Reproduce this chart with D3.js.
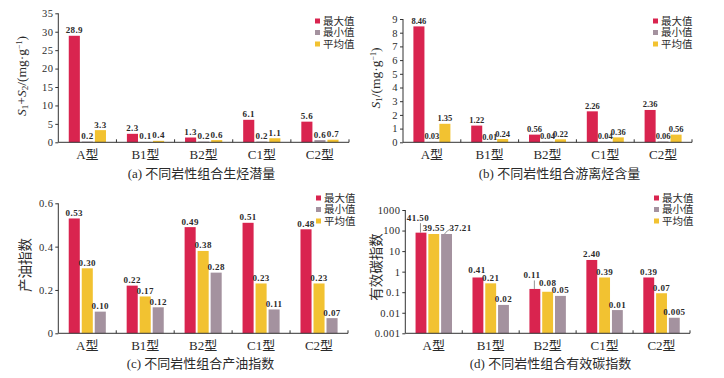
<!DOCTYPE html>
<html>
<head>
<meta charset="utf-8">
<script src="https://cdn.jsdelivr.net/npm/d3@7"></script>
<style>
  body { margin: 0; background: #fff; }
  svg { display: block; }
  text { fill: #2b2b2b; }
</style>
</head>
<body>
<svg width="724" height="378"></svg>
<script>
const categories = ['A型', 'B1型', 'B2型', 'C1型', 'C2型'];
const seriesNames = ['最大值', '最小值', '平均值'];

// (a) S1+S2
const potMax = [28.9, 2.3, 1.3, 6.1, 5.6];
const potMin = [0.2, 0.1, 0.2, 0.2, 0.6];
const potAvg = [3.3, 0.4, 0.6, 1.1, 0.7];

// (b) S1
const freeMax = [8.46, 1.22, 0.56, 2.26, 2.36];
const freeMin = [0.03, 0.01, 0.04, 0.04, 0.06];
const freeAvg = [1.35, 0.24, 0.22, 0.36, 0.56];

// (c) oil index
const oilMax = [0.53, 0.22, 0.49, 0.51, 0.48];
const oilAvg = [0.30, 0.17, 0.38, 0.23, 0.23];
const oilMin = [0.10, 0.12, 0.28, 0.11, 0.07];

// (d) effective carbon index - bar heights as drawn, labels as printed
const carbMax = [79, 0.52, 0.144, 3.7, 0.52];
const carbAvg = [68, 0.27, 0.105, 0.52, 0.089];
const carbMin = [68, 0.024, 0.066, 0.0135, 0.0057];
const carbMaxLabel = ['41.50', '0.41', '0.11', '2.40', '0.39'];
const carbAvgLabel = ['39.55', '0.21', '0.08', '0.39', '0.07'];
const carbMinLabel = ['37.21', '0.02', '0.05', '0.01', '0.005'];

const COLORS = { '最大值': '#d9244f', '最小值': '#a4929f', '平均值': '#f2c231' };
const NUM_FONT = '"Liberation Serif", "Times New Roman", serif';
const CJK_FONT = '"Liberation Serif", "Noto Sans CJK SC", serif';

const svg = d3.select('svg');

const drawPanel = (cfg) => {
    const g = svg.append('g');
    const { x0: left, x1: right, top, bottom } = cfg;

    const x = d3.scaleBand().domain(categories).range([left, right]);
    const bw = x.bandwidth();
    const inner = d3.scaleBand().domain(cfg.series.map(s => s.name))
        .range([bw * 0.18, bw * 0.82]).paddingInner(0.15);

    const y = cfg.log
        ? d3.scaleLog().domain(cfg.domain).range([bottom, top])
        : d3.scaleLinear().domain(cfg.domain).range([bottom, top]);

    // bars
    cfg.series.forEach(s => {
        g.append('g').selectAll('rect')
            .data(s.values)
            .join('rect')
            .attr('x', (_d, i) => x(categories[i]) + inner(s.name))
            .attr('width', inner.bandwidth())
            .attr('y', d => y(d))
            .attr('height', d => y(cfg.domain[0]) - y(d))
            .style('fill', COLORS[s.name]);
    });

    // value labels
    cfg.series.forEach(s => {
        g.append('g').selectAll('text')
            .data(s.values)
            .join('text')
            .each((d, i, n) => {
                const key = s.name + '|' + i;
                const tw = (cfg.tweaks || {})[key] || {};
                const cx = x(categories[i]) + inner(s.name) + inner.bandwidth() / 2;
                const yTop = y(d);
                const ty = yTop - 2.5 - (tw.lift || 0);
                d3.select(n[i])
                    .attr('x', cx + (tw.dx || 0))
                    .attr('y', ty)
                    .attr('text-anchor', 'middle')
                    .style('font-family', NUM_FONT)
                    .style('font-size', cfg.labelSize || '9px')
                    .style('font-weight', 'bold')
                    .style('letter-spacing', cfg.labelSpacing || '0.4px')
                    .text(s.labels ? s.labels[i] : cfg.fmt(d));
                if (tw.leader === 'line') {
                    g.append('line')
                        .attr('x1', cx - 0.5).attr('x2', cx - 0.5)
                        .attr('y1', yTop).attr('y2', ty + 2)
                        .style('stroke', '#777').style('stroke-width', 0.8);
                } else if (tw.leader === 'curve') {
                    g.append('path')
                        .attr('d', `M${cx - 2},${yTop} Q${cx},${ty - 1} ${cx + 5},${ty - 3}`)
                        .style('fill', 'none').style('stroke', '#777').style('stroke-width', 0.8);
                }
            });
    });

    // y axis
    const yAxis = d3.axisLeft(y).tickValues(cfg.ticks).tickFormat(cfg.tickFmt)
        .tickSize(3).tickPadding(2);
    const ya = g.append('g').attr('transform', `translate(${left},0)`).call(yAxis);
    ya.select('.domain').attr('d', `M0,${bottom}V${top}`);
    ya.selectAll('text').style('font-family', NUM_FONT).style('font-size', '10.5px')
        .style('letter-spacing', '0.4px').style('fill', '#2b2b2b');
    ya.selectAll('line, path').style('stroke', '#333');

    // x axis: category labels
    const xa = g.append('g').attr('transform', `translate(0,${bottom})`)
        .call(d3.axisBottom(x).tickSize(0).tickPadding(7));
    xa.select('.domain').remove();
    xa.selectAll('text').style('font-family', CJK_FONT).style('font-size', '13px').style('fill', '#2b2b2b');
    g.append('line')
        .attr('x1', left).attr('x2', right).attr('y1', bottom).attr('y2', bottom)
        .style('stroke', '#333').style('stroke-width', 1);
    g.append('g').selectAll('line')
        .data(categories)
        .join('line')
        .attr('x1', d => x(d) + bw).attr('x2', d => x(d) + bw)
        .attr('y1', bottom).attr('y2', bottom - 3)
        .style('stroke', '#333');

    // y label
    const yl = g.append('text')
        .attr('transform', `translate(${cfg.yLabelX},${cfg.yLabelY}) rotate(-90)`)
        .attr('text-anchor', 'middle')
        .style('font-family', CJK_FONT)
        .style('font-size', '13.5px');
    cfg.yLabel(yl);

    // legend
    const lg = g.append('g').attr('transform', `translate(${cfg.legendX},${cfg.legendY})`);
    seriesNames.forEach((name, i) => {
        lg.append('rect').attr('x', 0).attr('y', i * 11.5 - 2.5).attr('width', 5).attr('height', 5)
            .style('fill', COLORS[name]);
        lg.append('text').attr('x', 8).attr('y', i * 11.5 + 3.8)
            .style('font-family', CJK_FONT).style('font-size', '10.5px')
            .text(name);
    });

    // caption
    g.append('text')
        .attr('x', cfg.captionX).attr('y', cfg.captionY)
        .attr('text-anchor', 'middle')
        .style('font-family', CJK_FONT)
        .style('font-size', '13px')
        .text(cfg.caption);
};

const addSub = (t, parts) => parts.forEach(p => {
    const ts = t.append('tspan').text(p.t);
    if (p.i) ts.style('font-style', 'italic');
    if (p.sub) ts.attr('baseline-shift', '-25%').style('font-size', '9px');
    if (p.sup) ts.attr('baseline-shift', '45%').style('font-size', '8px');
});

// (a)
drawPanel({
    x0: 58.3, x1: 349, top: 13.3, bottom: 142.3,
    domain: [0, 35], ticks: d3.range(0, 36, 5), tickFmt: d3.format('d'),
    fmt: d3.format('.1f'),
    series: [
        { name: '最大值', values: potMax },
        { name: '最小值', values: potMin },
        { name: '平均值', values: potAvg },
    ],
    yLabelX: 26, yLabelY: 76,
    yLabel: t => addSub(t, [
        { t: 'S', i: true }, { t: '1', sub: true }, { t: '+' },
        { t: 'S', i: true }, { t: '2', sub: true }, { t: '/(mg·g' },
        { t: '−1', sup: true }, { t: ')' },
    ]),
    legendX: 315, legendY: 21,
    captionX: 201.5, captionY: 177.5,
    caption: '(a) 不同岩性组合生烃潜量',
});

// (b)
drawPanel({
    x0: 403, x1: 692, top: 19, bottom: 142.3,
    domain: [0, 9], ticks: d3.range(0, 10), tickFmt: d3.format('d'),
    fmt: d3.format('.2f'),
    labelSize: '8.5px', labelSpacing: '0px',
    series: [
        { name: '最大值', values: freeMax },
        { name: '最小值', values: freeMin },
        { name: '平均值', values: freeAvg },
    ],
    yLabelX: 380, yLabelY: 78,
    yLabel: t => addSub(t, [
        { t: 'S', i: true }, { t: '1', sub: true }, { t: '/(mg·g' },
        { t: '−1', sup: true }, { t: ')' },
    ]),
    legendX: 653, legendY: 21,
    captionX: 559.5, captionY: 177.5,
    caption: '(b) 不同岩性组合游离烃含量',
});

// (c)
drawPanel({
    x0: 58.3, x1: 348, top: 203.3, bottom: 333.3,
    domain: [0, 0.6], ticks: [0, 0.2, 0.4, 0.6], tickFmt: d => d === 0 ? '0' : d3.format('.1f')(d),
    fmt: d3.format('.2f'),
    series: [
        { name: '最大值', values: oilMax },
        { name: '平均值', values: oilAvg },
        { name: '最小值', values: oilMin },
    ],
    yLabelX: 30, yLabelY: 265,
    yLabel: t => t.text('产油指数'),
    legendX: 316, legendY: 198,
    captionX: 200.5, captionY: 367.5,
    caption: '(c) 不同岩性组合产油指数',
});

// (d)
drawPanel({
    x0: 405.3, x1: 690, top: 210, bottom: 333.3, log: true,
    domain: [0.001, 1000], ticks: [0.001, 0.01, 0.1, 1, 10, 100, 1000],
    tickFmt: d => d >= 1 ? d3.format('d')(d) : String(d),
    series: [
        { name: '最大值', values: carbMax, labels: carbMaxLabel },
        { name: '平均值', values: carbAvg, labels: carbAvgLabel },
        { name: '最小值', values: carbMin, labels: carbMinLabel },
    ],
    tweaks: {
        '最大值|0': { lift: 9, dx: -3, leader: 'line' },
        '最小值|0': { dx: 14, leader: 'curve' },
        '最大值|1': { lift: 2, dx: -1 },
        '最大值|2': { lift: 8, dx: -3, leader: 'line' },
        '平均值|2': { lift: 3 },
    },
    yLabelX: 381, yLabelY: 267,
    yLabel: t => t.text('有效碳指数'),
    legendX: 654, legendY: 198,
    captionX: 550.5, captionY: 367.5,
    caption: '(d) 不同岩性组合有效碳指数',
});
</script>
</body>
</html>
